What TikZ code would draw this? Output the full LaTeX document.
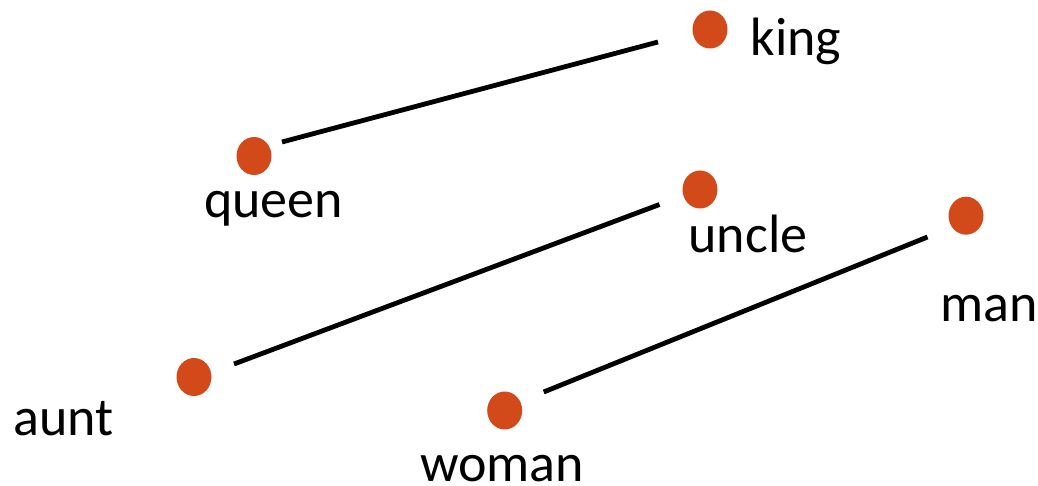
\documentclass[tikz,border=0pt]{standalone}
\usepackage{fontspec}
\setmainfont{Carlito}
\usetikzlibrary{shapes.geometric}
\definecolor{dotorange}{RGB}{210,74,26}
\tikzset{
  word/.style={anchor=base, inner sep=0pt, font=\fontsize{54}{64}\selectfont},
  wdot/.style={ellipse, fill=dotorange, draw=none, minimum width=35pt, minimum height=38pt, inner sep=0pt},
  pairline/.style={line width=4.8pt, black}
}
\begin{document}
\begin{tikzpicture}[x=1pt, y=-1pt]
  \useasboundingbox (0,0) rectangle (1038,486);
  % word vectors
  \node[wdot] (king)  at (710,29.5) {};
  \node[wdot] (queen) at (254,156) {};
  \node[wdot] (uncle) at (700,189.5) {};
  \node[wdot] (man)   at (966,215.7) {};
  \node[wdot] (aunt)  at (194,377) {};
  \node[wdot] (woman) at (504.7,410.5) {};
  % labels
  \node[word] (lking)  at (796,56) {king};
  \node[word] (lqueen) at (273.5,218) {queen};
  \node[word] (luncle) at (748,253) {uncle};
  \node[word] (lman)   at (989,321) {man};
  \node[word] (launt)  at (63.5,435) {aunt};
  \node[word] (lwoman) at (502,481) {woman};
  % parallel offsets
  \draw[pairline] ([shift={(28,-14)}]queen.center) -- ([shift={(-52,12.5)}]king.center);
  \draw[pairline] ([shift={(40,-13)}]aunt.center) -- ([shift={(-40.5,15)}]uncle.center);
  \draw[pairline] ([shift={(39,-18.5)}]woman.center) -- ([shift={(-38.5,21.3)}]man.center);
\end{tikzpicture}
\end{document}
